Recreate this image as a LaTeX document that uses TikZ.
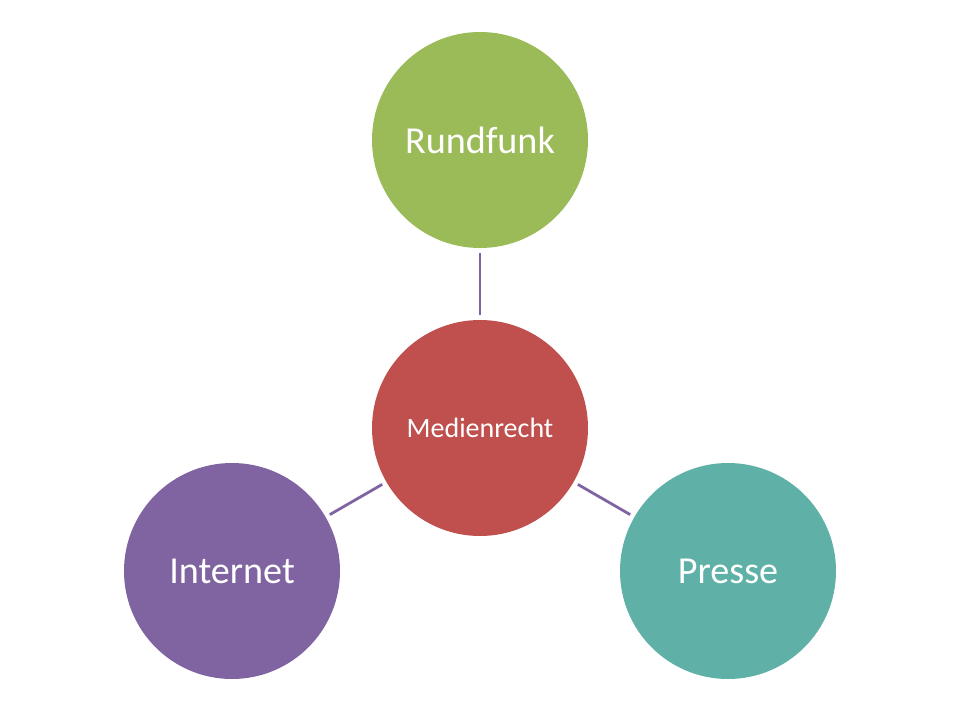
\documentclass[tikz,border=0pt]{standalone}
\usepackage{fontspec}
\setmainfont{Carlito}
\usetikzlibrary{positioning}
\definecolor{rundfunkgreen}{HTML}{9BBB59}
\definecolor{medienred}{HTML}{C0504D}
\definecolor{internetpurple}{HTML}{8064A2}
\definecolor{presseteal}{HTML}{5FB0A6}

\begin{document}
\begin{tikzpicture}[x=.75pt,y=-.75pt,
    bubble/.style={circle,minimum size=162pt,inner sep=0pt,text=white,
      font=\fontsize{28.6}{32}\selectfont},
    link/.style={internetpurple,line width=2.1pt,shorten <=3.5pt,shorten >=3.5pt}]
        \useasboundingbox (0,0) rectangle (960,720);
        \node[bubble,fill=medienred,font=\fontsize{21}{24}\selectfont]
          (recht) at (480,428) {Medienrecht};
        \node[bubble,fill=rundfunkgreen] (rundfunk) at (480,140) {Rundfunk};
        \node[bubble,fill=internetpurple] (internet) at (232,571) {Internet};
        \node[bubble,fill=presseteal] (presse) at (728,571) {Presse};
        \draw[link] (recht) -- (rundfunk);
        \draw[link] (recht) -- (internet);
        \draw[link] (recht) -- (presse);
      \end{tikzpicture}
\end{document}
